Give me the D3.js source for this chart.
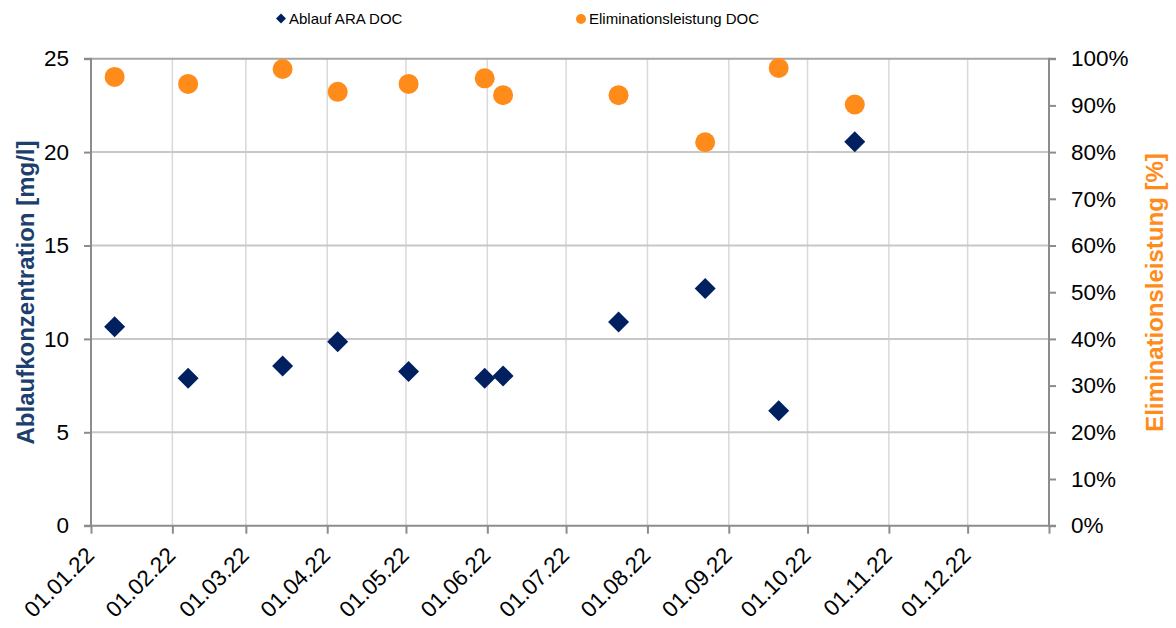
<!DOCTYPE html>
<html>
<head>
<meta charset="utf-8">
<script src="https://cdn.jsdelivr.net/npm/d3@7"></script>
<style>
  html, body { margin: 0; padding: 0; background: #fff; }
  svg { display: block; font-family: "Liberation Sans", Arial, sans-serif; }
</style>
</head>
<body>
<svg id="chart" width="1176" height="628"></svg>
<script>
// ---- data ----
const dates = ["2022-01-10","2022-02-07","2022-03-15","2022-04-05","2022-05-02","2022-05-31","2022-06-07","2022-07-21","2022-08-23","2022-09-20","2022-10-19"];
const ablaufDOC = [10.65, 7.9, 8.55, 9.85, 8.25, 7.9, 8.02, 10.9, 12.7, 6.15, 20.55];
const elimDOC = [96.1, 94.6, 97.8, 92.9, 94.6, 95.8, 92.2, 92.2, 82.1, 98.0, 90.2];
const leftTicks = [0, 5, 10, 15, 20, 25];
const rightTicks = [0, 10, 20, 30, 40, 50, 60, 70, 80, 90, 100];
const monthTicks = ["2022-01-01","2022-02-01","2022-03-01","2022-04-01","2022-05-01","2022-06-01","2022-07-01","2022-08-01","2022-09-01","2022-10-01","2022-11-01","2022-12-01"];
const seriesNames = ["Ablauf ARA DOC", "Eliminationsleistung DOC"];

const parse = d3.utcParse("%Y-%m-%d");
const fmt = d3.utcFormat("%d.%m.%y");
const blue = "#002060", orange = "#FF8C1A";

const svg = d3.select("#chart");
const L = 91, R = 1049, T = 58.7, B = 525.7;

const x = d3.scaleUtc().domain([parse("2022-01-01"), parse("2023-01-01")]).range([L, R]);
const yL = d3.scaleLinear().domain([0, 25]).range([B, T]);
const yR = d3.scaleLinear().domain([0, 100]).range([B, T]);

// gridlines
const g = svg.append("g");
g.selectAll("line.vg").data(monthTicks.slice(1)).join("line")
  .attr("x1", d => x(parse(d))).attr("x2", d => x(parse(d)))
  .attr("y1", T).attr("y2", B)
  .attr("stroke", "#d9d9d9").attr("stroke-width", 1.5);
g.selectAll("line.hg").data(leftTicks.slice(1)).join("line")
  .attr("x1", L).attr("x2", R)
  .attr("y1", d => yL(d)).attr("y2", d => yL(d))
  .attr("stroke", d => d === 25 ? "#a6a6a6" : "#c8c8c8").attr("stroke-width", 2);

// axes
const axisColor = "#8c8c8c";
const axL = svg.append("g").attr("transform", `translate(${L},0)`)
  .call(d3.axisLeft(yL).tickValues(leftTicks).tickSize(7).tickPadding(15));
const axR = svg.append("g").attr("transform", `translate(${R},0)`)
  .call(d3.axisRight(yR).tickValues(rightTicks).tickSize(7).tickPadding(15).tickFormat(d => d + "%"));
const axB = svg.append("g").attr("transform", `translate(0,${B})`)
  .call(d3.axisBottom(x).tickValues(monthTicks.map(parse).concat([parse("2023-01-01")])).tickSize(8).tickFormat(d => d.getUTCFullYear() === 2023 ? "" : fmt(d)));

[axL, axR, axB].forEach(a => {
  a.select(".domain").attr("stroke", axisColor).attr("stroke-width", 2);
  a.selectAll(".tick line").attr("stroke", axisColor).attr("stroke-width", 2);
  a.selectAll(".tick text").attr("fill", "#000").style("font-size", "22.5px").style("font-family", "'Liberation Sans', Arial, sans-serif");
});
axL.select(".domain").attr("d", `M-7,${B}H0V${T}H-7`);
axR.select(".domain").attr("d", `M7,${B}H0V${T}H7`);
axB.select(".domain").attr("d", `M${L},0H${R}`);
axB.selectAll(".tick text")
  .attr("text-anchor", "end")
  .attr("dy", null)
  .attr("transform", "translate(4,31) rotate(-45)")
  .attr("x", 0).attr("y", 0);

// points
const pts = dates.map((d, i) => ({ date: parse(d), doc: ablaufDOC[i], elim: elimDOC[i] }));
svg.append("g").selectAll("circle").data(pts).join("circle")
  .attr("cx", d => x(d.date)).attr("cy", d => yR(d.elim)).attr("r", 10)
  .attr("fill", orange);
const dm = 10.5;
svg.append("g").selectAll("path").data(pts).join("path")
  .attr("transform", d => `translate(${x(d.date)},${yL(d.doc)})`)
  .attr("d", `M0,${-dm}L${dm},0L0,${dm}L${-dm},0Z`)
  .attr("fill", blue);

// axis titles
svg.append("text").attr("transform", "translate(34,292.5) rotate(-90)")
  .attr("text-anchor", "middle").attr("fill", "#1c3f6e")
  .style("font-size", "24px").style("font-weight", "bold")
  .text("Ablaufkonzentration [mg/l]");
svg.append("text").attr("transform", "translate(1163,292.5) rotate(-90)")
  .attr("text-anchor", "middle").attr("fill", orange)
  .style("font-size", "24px").style("font-weight", "bold")
  .text("Eliminationsleistung [%]");

// legend
const lg = svg.append("g");
lg.append("path").attr("transform", "translate(281,18.5)").attr("d", "M0,-5L5,0L0,5L-5,0Z").attr("fill", blue);
lg.append("text").attr("x", 289).attr("y", 23.5).style("font-size", "15px").attr("fill", "#000").text(seriesNames[0]);
lg.append("circle").attr("cx", 581).attr("cy", 19).attr("r", 5).attr("fill", orange);
lg.append("text").attr("x", 589).attr("y", 23.5).style("font-size", "15px").attr("fill", "#000").text(seriesNames[1]);
</script>
</body>
</html>
